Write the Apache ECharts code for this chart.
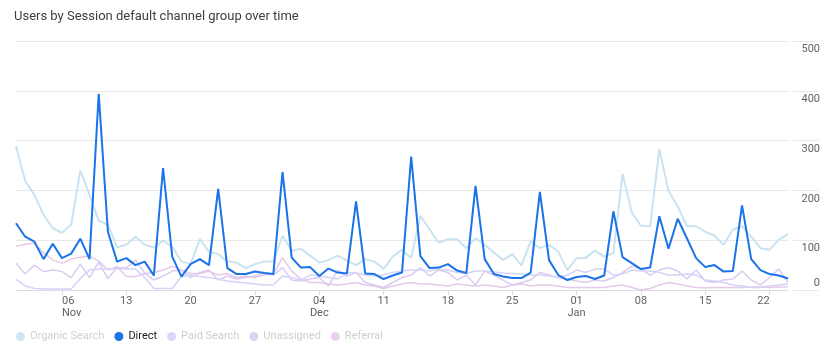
<!DOCTYPE html>
<html>
<head>
<meta charset="utf-8">
<script src="https://cdn.jsdelivr.net/npm/echarts@6/dist/echarts.min.js"></script>
<style>
  html, body { margin: 0; padding: 0; background: #fff; }
  #chart { width: 830px; height: 351px; }
</style>
</head>
<body>
<div id="chart"></div>
<script>
const dates = [
  "2023-11-01", "2023-11-02", "2023-11-03", "2023-11-04", "2023-11-05", "2023-11-06", "2023-11-07",
  "2023-11-08", "2023-11-09", "2023-11-10", "2023-11-11", "2023-11-12", "2023-11-13", "2023-11-14",
  "2023-11-15", "2023-11-16", "2023-11-17", "2023-11-18", "2023-11-19", "2023-11-20", "2023-11-21",
  "2023-11-22", "2023-11-23", "2023-11-24", "2023-11-25", "2023-11-26", "2023-11-27", "2023-11-28",
  "2023-11-29", "2023-11-30", "2023-12-01", "2023-12-02", "2023-12-03", "2023-12-04", "2023-12-05",
  "2023-12-06", "2023-12-07", "2023-12-08", "2023-12-09", "2023-12-10", "2023-12-11", "2023-12-12",
  "2023-12-13", "2023-12-14", "2023-12-15", "2023-12-16", "2023-12-17", "2023-12-18", "2023-12-19",
  "2023-12-20", "2023-12-21", "2023-12-22", "2023-12-23", "2023-12-24", "2023-12-25", "2023-12-26",
  "2023-12-27", "2023-12-28", "2023-12-29", "2023-12-30", "2023-12-31", "2024-01-01", "2024-01-02",
  "2024-01-03", "2024-01-04", "2024-01-05", "2024-01-06", "2024-01-07", "2024-01-08", "2024-01-09",
  "2024-01-10", "2024-01-11", "2024-01-12", "2024-01-13", "2024-01-14", "2024-01-15", "2024-01-16",
  "2024-01-17", "2024-01-18", "2024-01-19", "2024-01-20", "2024-01-21", "2024-01-22", "2024-01-23",
  "2024-01-24"
];

const monthNames = ["Jan", "Feb", "Mar", "Apr", "May", "Jun", "Jul", "Aug", "Sep", "Oct", "Nov", "Dec"];

const directUsers = [
  134, 107, 97, 62, 93, 64, 73, 103, 62, 394, 117, 57, 64, 50, 57,
  29, 245, 67, 27, 52, 62, 50, 203, 44, 32, 32, 37, 34, 32,
  237, 65, 45, 46, 28, 43, 35, 33, 178, 33, 32, 22, 29, 35,
  268, 68, 44, 45, 52, 39, 34, 209, 62, 32, 27, 24, 24, 35,
  197, 60, 30, 20, 26, 28, 22, 29, 158, 66, 54, 42, 45, 148,
  83, 143, 104, 64, 46, 50, 37, 38, 170, 62, 40, 32, 29, 23
];

const organicUsers = [
  289, 219, 191, 151, 124, 115, 131, 240, 191, 139, 131, 86, 91, 107, 91,
  85, 99, 87, 57, 52, 102, 77, 72, 57, 55, 44, 52, 57, 57,
  109, 79, 83, 69, 55, 60, 69, 59, 50, 62, 57, 42, 67, 81,
  64, 149, 122, 95, 102, 102, 84, 104, 91, 75, 60, 72, 49, 98,
  84, 91, 77, 40, 64, 65, 79, 67, 74, 233, 156, 129, 128, 283,
  199, 168, 128, 128, 117, 109, 91, 121, 128, 107, 84, 81, 101, 112
];

const paidUsers = [
  22, 8, 3, 2, 2, 2, 2, 23, 40, 42, 42, 43, 42, 42, 25,
  3, 3, 3, 27, 30, 27, 25, 22, 18, 16, 14, 12, 10, 10,
  28, 25, 20, 30, 28, 25, 22, 35, 34, 30, 28, 30, 35, 38,
  40, 40, 38, 42, 40, 35, 33, 38, 38, 36, 34, 33, 32, 30,
  30, 28, 25, 30, 40, 35, 42, 42, 30, 32, 40, 38, 38, 35,
  30, 30, 32, 30, 20, 18, 15, 10, 8, 5, 5, 8, 10, 12
];

const unassignedUsers = [
  54, 32, 50, 37, 40, 37, 25, 52, 25, 56, 23, 45, 44, 60, 34,
  20, 28, 38, 40, 25, 35, 40, 20, 28, 22, 25, 28, 35, 30,
  45, 20, 18, 22, 25, 8, 40, 28, 35, 15, 10, 5, 15, 25,
  30, 45, 28, 40, 35, 20, 30, 10, 38, 30, 20, 10, 15, 20,
  35, 30, 25, 22, 18, 15, 20, 18, 25, 35, 48, 42, 30, 40,
  45, 38, 22, 40, 18, 15, 20, 22, 38, 20, 10, 25, 42, 15
];

const referralUsers = [
  88, 92, 94, 75, 60, 54, 62, 66, 68, 58, 40, 47, 27, 27, 33,
  35, 40, 48, 40, 33, 33, 38, 30, 33, 25, 28, 25, 30, 32,
  65, 38, 22, 15, 15, 12, 10, 12, 15, 10, 8, 3, 8, 12,
  15, 12, 12, 10, 8, 12, 10, 8, 10, 8, 5, 10, 12, 8,
  10, 10, 8, 5, 5, 5, 5, 5, 8, 10, 5, 0, 3, 10,
  15, 12, 8, 5, 4, 5, 5, 5, 5, 6, 6, 5, 6, 6
];

const yTicks = [0, 100, 200, 300, 400, 500];

const FIRST_TICK = 5;   // 06 Nov
const TICK_STEP = 7;

const chart = echarts.init(document.getElementById("chart"));

function isTickIndex(index) {
  return index >= FIRST_TICK && (index - FIRST_TICK) % TICK_STEP === 0;
}

function lastTickIndex() {
  let last = FIRST_TICK;
  for (let i = FIRST_TICK; i < dates.length; i += TICK_STEP) last = i;
  return last;
}

function formatDateLabel(value) {
  const parts = value.split("-");
  const day = parts[2];
  const month = monthNames[Number(parts[1]) - 1];
  if (day === "01" || value === dates[FIRST_TICK] || Number(day) <= TICK_STEP) {
    return `${day}\n${month}`;
  }
  return day;
}

const lastTick = lastTickIndex();
const xData = dates.map((d, i) => {
  if (i === FIRST_TICK) return { value: d, textStyle: { align: "left" } };
  if (i === lastTick) return { value: d, textStyle: { align: "right" } };
  return d;
});

const fadedText = "#cfcfcf";
const lineStyles = {
  organic: "#c9e3f1",
  direct: "#1a73e8",
  paid: "#d4d3f8",
  unassigned: "#dccbf1",
  referral: "#e4c9e9"
};

function makeLine(name, data, color, width, z) {
  return {
    name,
    type: "line",
    data,
    yAxisIndex: 0,
    showSymbol: false,
    symbol: "none",
    z,
    lineStyle: { color, width },
    itemStyle: { color },
    emphasis: { disabled: true }
  };
}

chart.setOption({
  animation: false,
  textStyle: { fontFamily: "Roboto, Arial, sans-serif" },
  title: {
    text: "Users by Session default channel group over time",
    left: 9,
    top: 5,
    textStyle: { fontSize: 13, fontWeight: "normal", color: "#3c4043" }
  },
  legend: {
    left: 11,
    top: 326,
    icon: "circle",
    itemWidth: 9,
    itemHeight: 9,
    itemGap: 10,
    textStyle: { fontSize: 11, color: fadedText },
    data: [
      { name: "Organic Search", itemStyle: { color: "#cfe5f2" }, textStyle: { color: fadedText } },
      { name: "Direct", itemStyle: { color: "#1a73e8" }, textStyle: { color: "#202124" } },
      { name: "Paid Search", itemStyle: { color: "#d9d8fa" }, textStyle: { color: fadedText } },
      { name: "Unassigned", itemStyle: { color: "#e0d2f5" }, textStyle: { color: fadedText } },
      { name: "Referral", itemStyle: { color: "#e8d2ec" }, textStyle: { color: fadedText } }
    ]
  },
  grid: {
    left: 16,
    right: 42,
    top: 41,
    bottom: 61,
    containLabel: false,
    outerBoundsMode: "none"
  },
  xAxis: {
    type: "category",
    data: xData,
    boundaryGap: false,
    axisLine: { show: true, lineStyle: { color: "#dadce0", width: 1 } },
    axisTick: {
      show: true,
      length: 5,
      interval: (index) => isTickIndex(index),
      lineStyle: { color: "#dadce0" }
    },
    axisLabel: {
      interval: (index) => isTickIndex(index),
      formatter: formatDateLabel,
      color: "#5f6368",
      fontSize: 11,
      lineHeight: 12,
      margin: 5
    },
    splitLine: { show: false }
  },
  yAxis: [
    {
      type: "value",
      position: "right",
      min: yTicks[0],
      max: yTicks[yTicks.length - 1],
      interval: 100,
      axisLine: { show: false },
      axisTick: { show: false },
      splitLine: { show: true, lineStyle: { color: "#e8e8e8", width: 1 } },
      axisLabel: {
        align: "right",
        verticalAlign: "top",
        margin: 32,
        padding: [3, 0, 0, 0],
        color: "#5f6368",
        fontSize: 11,
        formatter: (v) => (v === 0 ? "" : String(v))
      }
    },
    {
      type: "value",
      position: "right",
      offset: 5,
      min: yTicks[0],
      max: yTicks[yTicks.length - 1],
      interval: 100,
      axisLine: { show: false },
      axisTick: { show: true, length: 25, lineStyle: { color: "#e8e8e8" } },
      splitLine: { show: false },
      axisLabel: {
        align: "right",
        verticalAlign: "bottom",
        margin: 27,
        padding: [0, 0, 1, 0],
        color: "#5f6368",
        fontSize: 11,
        formatter: (v) => (v === 0 ? "0" : "")
      }
    }
  ],
  series: [
    makeLine("Referral", referralUsers, lineStyles.referral, 1.5, 2),
    makeLine("Unassigned", unassignedUsers, lineStyles.unassigned, 1.5, 2),
    makeLine("Paid Search", paidUsers, lineStyles.paid, 1.5, 2),
    makeLine("Organic Search", organicUsers, lineStyles.organic, 2, 3),
    makeLine("Direct", directUsers, lineStyles.direct, 2, 5)
  ]
});

window.addEventListener("resize", () => chart.resize());
</script>
</body>
</html>
